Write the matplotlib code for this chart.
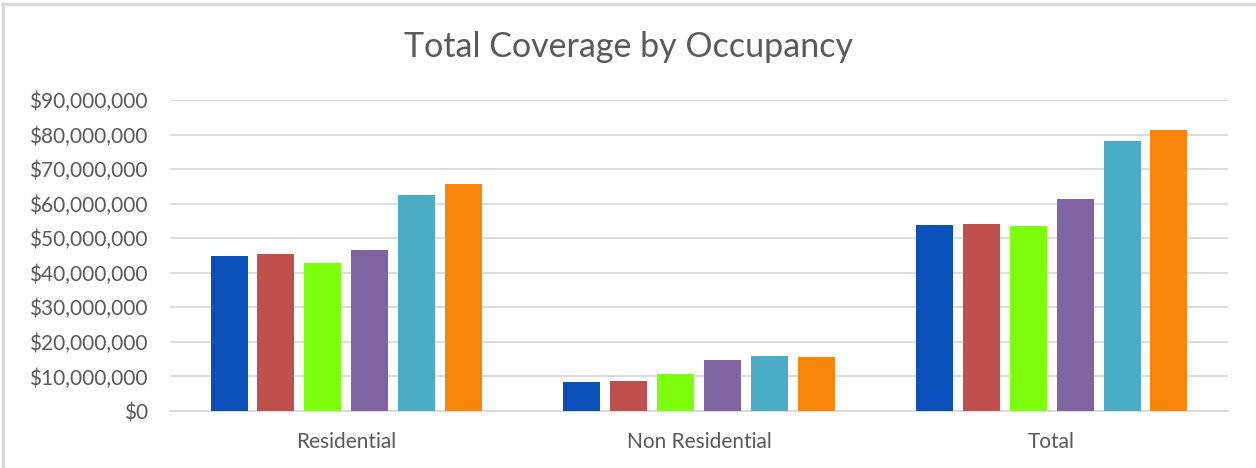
import matplotlib
matplotlib.use("Agg")
import matplotlib.pyplot as plt
import numpy as np
from matplotlib.ticker import FuncFormatter
from matplotlib.lines import Line2D

categories = ["Residential", "Non Residential", "Total"]
series1 = [45.0e6, 8.5e6, 53.7e6]
series2 = [45.5e6, 8.8e6, 54.2e6]
series3 = [42.9e6, 10.6e6, 53.5e6]
series4 = [46.5e6, 14.9e6, 61.3e6]
series5 = [62.5e6, 15.9e6, 78.2e6]
series6 = [65.8e6, 15.7e6, 81.4e6]
all_series = [series1, series2, series3, series4, series5, series6]
colors = ["#0a50b8", "#c0504d", "#7cff0c", "#8064a2", "#4bacc6", "#f9860a"]

plt.rcParams['font.family'] = ['Lato', 'DejaVu Sans']
text_color = "#595959"

fig = plt.figure(figsize=(12.56, 4.68), dpi=100)
ax = fig.add_axes([170/1256, 1-411/468, (1228-170)/1256, (411-100)/468])

x = np.arange(len(categories))
width = 0.105
step = 0.133
for i, (vals, c) in enumerate(zip(all_series, colors)):
    ax.bar(x + (i - 2.5) * step, vals, width=width, color=c, zorder=3)

ax.set_xlim(-0.5, 2.5)
ax.set_ylim(0, 90e6)
ax.set_yticks(np.arange(0, 90e6 + 1, 10e6))
ax.yaxis.set_major_formatter(FuncFormatter(lambda v, p: f"${v:,.0f}"))
ax.set_xticks(x)
ax.set_xticklabels(categories)
ax.grid(axis='y', color="#d9d9d9", linewidth=1.3, zorder=0)
for s in ["top", "right", "left"]:
    ax.spines[s].set_visible(False)
ax.spines["bottom"].set_color("#d9d9d9")
ax.spines["bottom"].set_linewidth(1.3)
ax.tick_params(axis='both', length=0, colors=text_color, labelsize=15)
ax.tick_params(axis='y', pad=16)
ax.tick_params(axis='x', pad=15)

fig.text(0.5, 1-47/468, "Total Coverage by Occupancy", ha='center', va='center',
         fontsize=24.5, color=text_color)

# chart frame border
fig.add_artist(Line2D([3/1256, 1], [1-4/468, 1-4/468], color="#d9d9d9", linewidth=2.5))
fig.add_artist(Line2D([3/1256, 3/1256], [0, 1-4/468], color="#d9d9d9", linewidth=2.5))

fig.savefig("out.png", dpi=100)
